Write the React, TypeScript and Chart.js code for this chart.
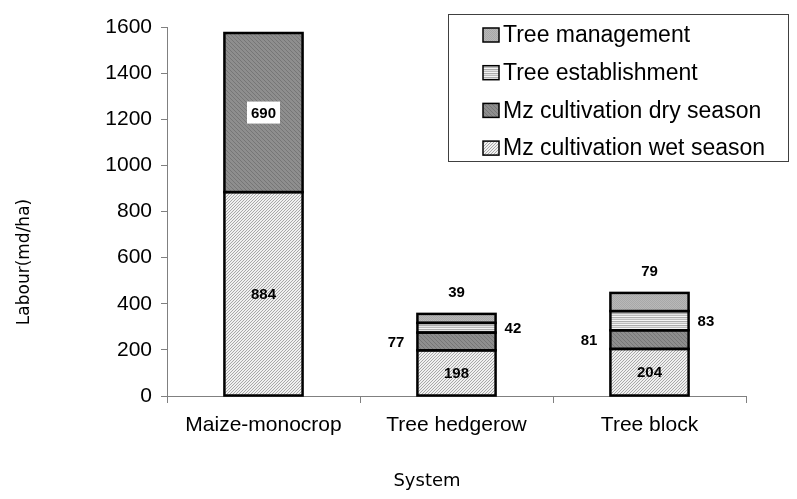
import React, { useEffect, useRef } from 'react';
import { Chart, registerables } from 'chart.js';

Chart.register(...registerables);

// ---- data ----
const categories = ['Maize-monocrop', 'Tree hedgerow', 'Tree block'];
const wetSeason = [884, 198, 204];
const drySeason = [690, 77, 81];
const treeEstablishment = [0, 42, 83];
const treeManagement = [0, 39, 79];
const seriesNames = [
  'Mz cultivation wet season',
  'Mz cultivation dry season',
  'Tree establishment',
  'Tree management',
];
const yMin = 0;
const yMax = 1600;
const yStep = 200;
const yTitle = 'Labour(md/ha)';
const xTitle = 'System';

// ---- styles ----
const ARIAL = '"Liberation Sans", Arial, sans-serif';
const TITLE_FONT = '"DejaVu Sans", Verdana, sans-serif';

function makePattern(w: number, h: number, bg: string, pix: [number, number, string][]) {
  const c = document.createElement('canvas');
  c.width = w;
  c.height = h;
  const g = c.getContext('2d')!;
  g.fillStyle = bg;
  g.fillRect(0, 0, w, h);
  pix.forEach(([x, y, col]) => {
    g.fillStyle = col;
    g.fillRect(x, y, 1, 1);
  });
  const ctx = document.createElement('canvas').getContext('2d')!;
  return ctx.createPattern(c, 'repeat') as CanvasPattern;
}

function makeStripes(rows: string[]) {
  const c = document.createElement('canvas');
  c.width = 4;
  c.height = rows.length;
  const g = c.getContext('2d')!;
  rows.forEach((col, i) => {
    g.fillStyle = col;
    g.fillRect(0, i, 4, 1);
  });
  const ctx = document.createElement('canvas').getContext('2d')!;
  return ctx.createPattern(c, 'repeat') as CanvasPattern;
}

// label placement per series (style, not data)
const labelPlacement = [
  ['center', 'center', 'center'],
  ['boxed', 'left', 'left'],
  ['right', 'right', 'right'],
  ['top', 'top', 'top'],
];

const barOutlines = {
  id: 'barOutlines',
  afterDatasetsDraw(chart: any) {
    const ctx = chart.ctx;
    ctx.save();
    ctx.strokeStyle = '#000';
    ctx.lineWidth = 2.5;
    chart.data.datasets.forEach((ds: any, d: number) => {
      const meta = chart.getDatasetMeta(d);
      ds.data.forEach((v: any, i: number) => {
        if (!v) return;
        const p = meta.data[i].getProps(['x', 'y', 'base', 'width'], true);
        const top = Math.min(p.y, p.base);
        const h = Math.abs(p.base - p.y);
        ctx.strokeRect(p.x - p.width / 2, top, p.width, h);
      });
    });
    ctx.restore();
  },
};

const valueLabels = {
  id: 'valueLabels',
  afterDatasetsDraw(chart: any) {
    const ctx = chart.ctx;
    ctx.save();
    ctx.font = `bold 15px ${ARIAL}`;
    ctx.fillStyle = '#000';
    ctx.textBaseline = 'middle';
    chart.data.datasets.forEach((ds: any, d: number) => {
      const meta = chart.getDatasetMeta(d);
      ds.data.forEach((v: any, i: number) => {
        if (!v) return;
        const el = meta.data[i];
        const p = el.getProps(['x', 'y', 'base', 'width'], true);
        const cy = (p.y + p.base) / 2;
        const mode = labelPlacement[d][i];
        const txt = String(v);
        if (mode === 'center' || mode === 'boxed') {
          ctx.textAlign = 'center';
          if (mode === 'boxed') {
            const tw = ctx.measureText(txt).width;
            ctx.fillStyle = '#fff';
            ctx.fillRect(p.x - tw / 2 - 4, cy - 11, tw + 8, 22);
            ctx.fillStyle = '#000';
          }
          ctx.fillText(txt, p.x, cy + 1);
        } else if (mode === 'left') {
          ctx.textAlign = 'right';
          ctx.fillText(txt, p.x - p.width / 2 - 13, cy + 1);
        } else if (mode === 'right') {
          ctx.textAlign = 'left';
          ctx.fillText(txt, p.x + p.width / 2 + 9, cy + 1);
        } else if (mode === 'top') {
          ctx.textAlign = 'center';
          ctx.fillText(txt, p.x, p.y - 21);
        }
      });
    });
    ctx.restore();
  },
};

const customLegendAndTitles = {
  id: 'customLegendAndTitles',
  afterDraw(chart: any) {
    const ctx = chart.ctx;
    const area = chart.chartArea;
    ctx.save();
    // axis titles
    ctx.fillStyle = '#000';
    ctx.font = `17px ${TITLE_FONT}`;
    ctx.textAlign = 'center';
    ctx.textBaseline = 'middle';
    ctx.save();
    ctx.translate(area.left - 142, area.bottom - 134);
    ctx.rotate(-Math.PI / 2);
    ctx.fillText(yTitle, 0, 0);
    ctx.restore();
    ctx.font = `18px ${TITLE_FONT}`;
    ctx.fillText(xTitle, area.left + 260, area.bottom + 85);

    // legend box
    const bx = 448.5, by = 14.5, bw = 340, bh = 147;
    ctx.fillStyle = '#fff';
    ctx.fillRect(bx, by, bw, bh);
    ctx.strokeStyle = '#404040';
    ctx.lineWidth = 1;
    ctx.strokeRect(bx, by, bw, bh);
    const ds = chart.data.datasets;
    ctx.font = `23px ${ARIAL}`;
    ctx.textAlign = 'left';
    ctx.textBaseline = 'middle';
    for (let k = 0; k < ds.length; k++) {
      const d = ds[ds.length - 1 - k];
      const cy = 35 + k * 37.7;
      ctx.fillStyle = d.backgroundColor;
      ctx.fillRect(483, cy - 7, 16, 14);
      ctx.strokeStyle = '#000';
      ctx.lineWidth = 1.5;
      ctx.strokeRect(483, cy - 7, 16, 14);
      ctx.fillStyle = '#000';
      ctx.fillText(d.label, 503, cy + 1);
    }
    ctx.restore();
  },
};

export default function App() {
  const ref = useRef<HTMLCanvasElement>(null);
  useEffect(() => {
    if (!ref.current) return;
    const wetPat = makePattern(3, 3, '#f0f0f0', [
      [2, 0, '#a8a8a8'], [1, 1, '#a8a8a8'], [0, 2, '#a8a8a8'],
    ]);
    const dryPat = makePattern(4, 4, '#8e8e8e', [
      [0, 0, '#767676'], [1, 1, '#767676'], [2, 2, '#767676'], [3, 3, '#767676'],
    ]);
    const estPat = makeStripes(['#f4f4f4', '#acacac', '#e4e4e4', '#bcbcbc']);
    const mgmtPat = makePattern(2, 2, '#b8b8b8', [[0, 0, '#a8a8a8'], [1, 1, '#a8a8a8']]);
    const series = [wetSeason, drySeason, treeEstablishment, treeManagement];
    const fills = [wetPat, dryPat, estPat, mgmtPat];
    const chart = new Chart(ref.current, {
      type: 'bar',
      data: {
        labels: categories,
        datasets: series.map((s, i) => ({
          label: seriesNames[i],
          data: s.map((v) => (v === 0 ? null : v)),
          backgroundColor: fills[i] as any,
          borderWidth: 0,
          inflateAmount: 0,
          categoryPercentage: 1,
          barPercentage: 0.405,
        })),
      },
      options: {
        responsive: false,
        animation: false,
        layout: { padding: { top: 27, right: 51, left: 0, bottom: 0 } },
        plugins: {
          legend: { display: false },
          tooltip: { enabled: false },
        },
        scales: {
          x: {
            stacked: true,
            grid: {
              display: true,
              drawOnChartArea: false,
              drawTicks: true,
              tickLength: 7,
              color: '#808080',
              offset: true,
            },
            border: { display: true, color: '#808080', width: 1 },
            ticks: {
              color: '#000',
              font: { family: ARIAL, size: 21 },
              padding: 10,
              maxRotation: 0,
            },
            afterFit: (s: any) => {
              s.height = 103;
            },
          },
          y: {
            stacked: true,
            min: yMin,
            max: yMax,
            ticks: {
              stepSize: yStep,
              color: '#000',
              font: { family: ARIAL, size: 21 },
              padding: 9,
              callback: (v: any) => String(v),
            },
            grid: {
              display: true,
              drawOnChartArea: false,
              drawTicks: true,
              tickLength: 6,
              color: '#808080',
            },
            border: { display: true, color: '#808080', width: 1 },
            afterFit: (s: any) => {
              s.width = 167;
            },
          },
        },
      },
      plugins: [barOutlines, valueLabels, customLegendAndTitles],
    });
    return () => chart.destroy();
  }, []);
  return (
    <div style={{ position: 'fixed', left: 0, top: 0, width: 797, height: 499, background: '#fff' }}>
      <canvas ref={ref} width={797} height={499} style={{ display: 'block' }} />
    </div>
  );
}
